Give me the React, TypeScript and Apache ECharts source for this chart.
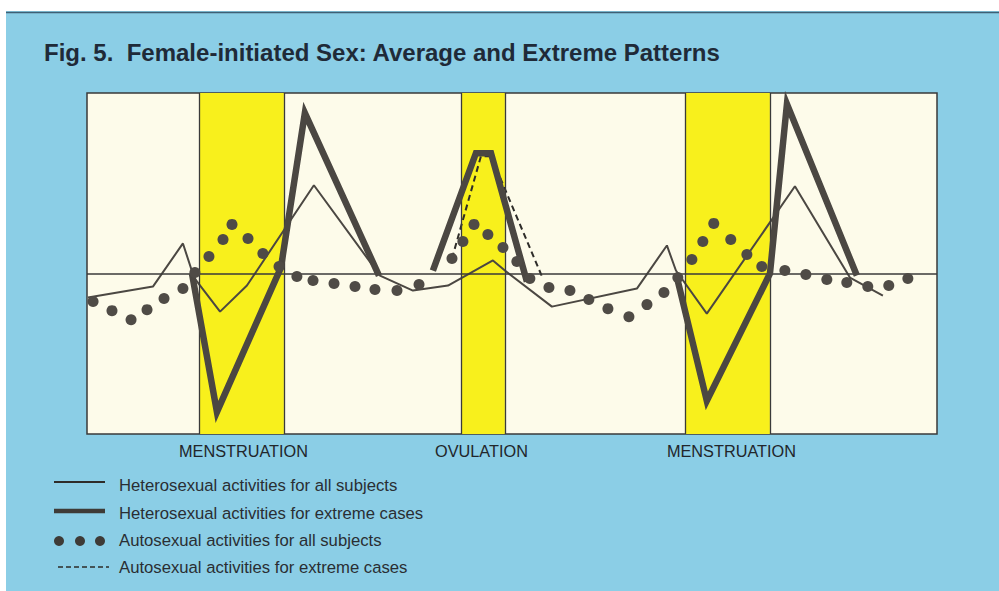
import React, { useEffect, useRef } from "react";
import * as echarts from "echarts";

// Days of the cycle (x) and level relative to the average (y, 0 = baseline)
const heteroAll: [number, number][] = [
  [0.06, -2.4], [3.8, -1.3], [5.53, 3.0], [6.17, -0.4], [7.67, -3.8], [9.22, -1.2],
  [13.08, 8.8], [16.89, -0.2], [18.79, -1.7], [20.81, -1.2], [23.4, 1.3], [24.09, 0.3],
  [26.8, -3.3], [31.7, -1.5], [33.43, 2.8], [33.95, 0.3], [35.73, -4.0], [40.81, 8.7],
  [43.98, -0.4], [45.88, -2.2],
];

const heteroExtreme: ([number, number] | null)[] = [
  [6.05, 0.0], [7.49, -13.8], [11.18, 0.6], [12.56, 16.0], [16.83, -0.2],
  null,
  [19.94, 0.3], [22.42, 12.0], [23.29, 12.0], [25.36, -0.8],
  null,
  [34.01, -0.4], [35.73, -12.7], [39.37, 0.0], [40.35, 16.9], [44.38, -0.2],
];

const autoAll: [number, number][] = [
  [0.35, -2.8], [1.44, -3.7], [2.54, -4.6], [3.46, -3.6], [4.44, -2.5], [5.53, -1.5],
  [6.22, 0.1], [7.03, 1.7], [7.84, 3.4], [8.36, 4.9], [9.28, 3.5], [10.14, 2.0],
  [11.07, 0.7], [12.1, -0.3], [13.03, -0.7], [14.24, -1.0], [15.45, -1.3], [16.6, -1.6],
  [17.87, -1.7], [19.14, -1.1], [21.04, 1.5], [21.67, 3.2], [22.31, 4.9], [23.11, 3.9],
  [23.98, 2.6], [24.78, 1.2], [25.53, -0.5], [26.63, -1.4], [27.84, -1.7], [28.93, -2.6],
  [30.03, -3.5], [31.24, -4.3], [32.28, -3.1], [33.26, -1.9], [34.06, -0.4], [34.87, 1.4],
  [35.5, 3.2], [36.13, 5.0], [37.11, 3.4], [38.04, 1.9], [38.9, 0.7], [40.23, 0.3],
  [41.44, -0.1], [42.65, -0.6], [43.8, -0.9], [45.01, -1.3], [46.22, -1.2], [47.32, -0.5],
];

const autoExtreme: [number, number][] = [
  [21.04, 1.5], [22.71, 11.7], [23.29, 11.7], [26.28, -0.5],
];

const bandStarts = [6.46, 21.56, 34.47];
const bandEnds = [11.35, 24.09, 39.37];
const bandLabels = ["MENSTRUATION", "OVULATION", "MENSTRUATION"];
const bandLabelCenters = [9.02, 22.74, 37.15];

const legendLabels = [
  "Heterosexual activities for all subjects",
  "Heterosexual activities for extreme cases",
  "Autosexual activities for all subjects",
  "Autosexual activities for extreme cases",
];

const TITLE = "Fig. 5.  Female-initiated Sex: Average and Extreme Patterns";

export default function App() {
  const ref = useRef<HTMLDivElement>(null);
  useEffect(() => {
    if (!ref.current) return;
    const chart = echarts.init(ref.current, null, { renderer: "svg" });
    const ink = "#4b4742";
    const font = "'Liberation Sans', Arial, Helvetica, sans-serif";
    const legendY = [482, 511, 541, 567];
    const option: any = {
      animation: false,
      backgroundColor: "#8bcee6",
      title: {
        text: TITLE,
        left: 39,
        top: 35,
        textStyle: { fontSize: 24, fontWeight: "bold", color: "#1f2a38", fontFamily: font },
      },
      grid: {
        left: 87, top: 93, width: 850, height: 341,
        show: true, backgroundColor: "#fdfbea", borderColor: "#3a3a3a", borderWidth: 1.5,
      },
      xAxis: {
        type: "value", min: 0, max: 49,
        splitLine: { show: false },
        axisLine: { show: false },
        axisTick: {
          show: true, customValues: [...bandStarts, ...bandEnds], length: 4,
          lineStyle: { color: "#3a3a3a", width: 1 },
        },
        axisLabel: {
          show: true,
          customValues: bandLabelCenters,
          margin: 9,
          fontSize: 16.3,
          color: "#22262b",
          fontFamily: font,
          formatter: (v: number) => {
            let best = 0;
            bandLabelCenters.forEach((c, i) => {
              if (Math.abs(c - v) < Math.abs(bandLabelCenters[best] - v)) best = i;
            });
            return bandLabels[best];
          },
        },
      },
      yAxis: {
        type: "value", min: -16, max: 18,
        axisLine: { show: false }, axisTick: { show: false },
        axisLabel: { show: false }, splitLine: { show: false },
      },
      series: [
        {
          name: legendLabels[0],
          type: "line",
          data: heteroAll,
          symbol: "none",
          z: 3,
          lineStyle: { color: ink, width: 2 },
          markArea: {
            silent: true,
            itemStyle: { color: "#f8f01c" },
            data: bandStarts.map((s, i) => [{ xAxis: s }, { xAxis: bandEnds[i] }]),
          },
          markLine: {
            silent: true,
            symbol: "none",
            label: { show: false },
            lineStyle: { color: "#3a3a3a", width: 1.3, type: "solid" },
            data: [
              ...bandStarts.map((s) => ({ xAxis: s })),
              ...bandEnds.map((s) => ({ xAxis: s })),
              { yAxis: 0, lineStyle: { width: 1.6, color: "#3a3a3a" } },
            ],
          },
        },
        {
          name: legendLabels[3],
          type: "line",
          data: autoExtreme,
          symbol: "none",
          z: 4,
          lineStyle: { color: "#2e2c29", width: 2, type: [6, 4] },
        },
        {
          name: legendLabels[1],
          type: "line",
          data: heteroExtreme,
          connectNulls: false,
          symbol: "none",
          z: 5,
          lineStyle: { color: ink, width: 6.5, join: "miter", miterLimit: 20 },
        },
        {
          name: legendLabels[2],
          type: "scatter",
          data: autoAll,
          symbol: "circle",
          symbolSize: 11,
          z: 6,
          itemStyle: { color: "#4f4b46", opacity: 1 },
        },
      ],
      graphic: [
        { type: "rect", shape: { x: 0, y: 0, width: 999, height: 11 }, style: { fill: "#ffffff" }, z: 10 },
        { type: "rect", shape: { x: 0, y: 0, width: 6, height: 591 }, style: { fill: "#ffffff" }, z: 10 },
        { type: "line", shape: { x1: 6, y1: 12.5, x2: 999, y2: 12.5 }, style: { stroke: "#3f5f74", lineWidth: 1.5 }, z: 10 },
        { type: "line", shape: { x1: 54, y1: legendY[0], x2: 105, y2: legendY[0] }, style: { stroke: "#2e2c29", lineWidth: 2 } },
        { type: "line", shape: { x1: 54, y1: legendY[1], x2: 105, y2: legendY[1] }, style: { stroke: "#3e3b37", lineWidth: 4.5 } },
        { type: "circle", shape: { cx: 59, cy: legendY[2], r: 5 }, style: { fill: "#3e3b37" } },
        { type: "circle", shape: { cx: 80, cy: legendY[2], r: 5 }, style: { fill: "#3e3b37" } },
        { type: "circle", shape: { cx: 100, cy: legendY[2], r: 5 }, style: { fill: "#3e3b37" } },
        { type: "line", shape: { x1: 58, y1: legendY[3], x2: 109, y2: legendY[3] }, style: { stroke: "#2e2c29", lineWidth: 1.5, lineDash: [5, 3] } },
        ...legendLabels.map((t, i) => ({
          type: "text",
          x: 119,
          y: [485, 513, 540, 567][i],
          style: { text: t, font: `16.7px ${font}`, fill: "#2a2e33", verticalAlign: "middle", textVerticalAlign: "middle" },
        })),
      ],
    };
    chart.setOption(option);
    return () => chart.dispose();
  }, []);
  return (
    <div
      ref={ref}
      style={{ position: "fixed", left: 0, top: 0, width: 999, height: 591 }}
    />
  );
}
